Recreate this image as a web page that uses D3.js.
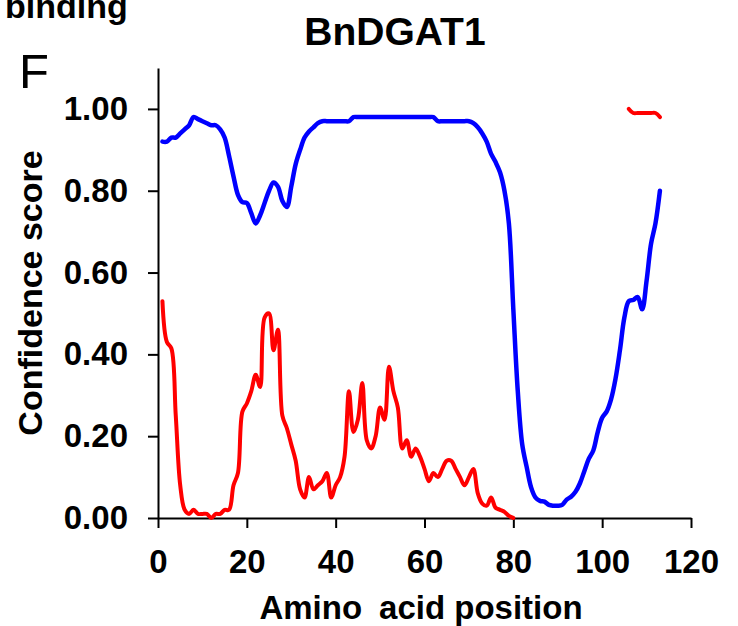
<!DOCTYPE html>
<html>
<head>
<meta charset="utf-8">
<script src="https://cdn.jsdelivr.net/npm/d3@7"></script>
<style>
  html, body { margin: 0; padding: 0; background: #fff; }
  svg { display: block; }
  text { font-family: "Liberation Sans", Arial, sans-serif; }
</style>
</head>
<body>
<svg id="chart" width="738" height="626"></svg>
<script>
// Confidence scores per amino acid position (positions start at 1)
const blueScores = [
  0.92, 0.92, 0.93, 0.93, 0.94, 0.95, 0.96, 0.98, 0.975, 0.97,
  0.965, 0.96, 0.96, 0.95, 0.93, 0.885, 0.835, 0.79, 0.772, 0.77,
  0.745, 0.72, 0.74, 0.77, 0.80, 0.82, 0.81, 0.775, 0.76, 0.81,
  0.865, 0.90, 0.93, 0.945, 0.955, 0.965, 0.97, 0.97, 0.97, 0.97,
  0.97, 0.97, 0.97, 0.98, 0.98, 0.98, 0.98, 0.98, 0.98, 0.98,
  0.98, 0.98, 0.98, 0.98, 0.98, 0.98, 0.98, 0.98, 0.98, 0.98,
  0.98, 0.98, 0.97, 0.97, 0.97, 0.97, 0.97, 0.97, 0.97, 0.97,
  0.965, 0.955, 0.94, 0.92, 0.89, 0.87, 0.845, 0.80, 0.72, 0.51,
  0.31, 0.18, 0.125, 0.075, 0.05, 0.042, 0.04, 0.032, 0.03, 0.03,
  0.032, 0.045, 0.052, 0.064, 0.085, 0.115, 0.145, 0.165, 0.21, 0.245,
  0.26, 0.29, 0.34, 0.41, 0.49, 0.53, 0.533, 0.54, 0.51, 0.58,
  0.67, 0.72, 0.80
];
const redScores = [
  0.53, 0.43, 0.415, 0.25, 0.08, 0.02, 0.01, 0.02, 0.01, 0.01,
  0.01, 0.00, 0.01, 0.01, 0.02, 0.02, 0.08, 0.11, 0.26, 0.28,
  0.31, 0.35, 0.32, 0.49, 0.50, 0.41, 0.46, 0.25, 0.22, 0.18,
  0.14, 0.07, 0.05, 0.10, 0.07, 0.08, 0.09, 0.11, 0.05, 0.08,
  0.10, 0.15, 0.31, 0.21, 0.24, 0.33, 0.19, 0.17, 0.20, 0.27,
  0.24, 0.37, 0.31, 0.27, 0.17, 0.19, 0.15, 0.17, 0.15, 0.12,
  0.09, 0.11, 0.10, 0.12, 0.14, 0.14, 0.12, 0.10, 0.08, 0.10,
  0.12, 0.06, 0.035, 0.03, 0.05, 0.025, 0.02, 0.015, 0.005, 0.00,
  null, null, null, null, null, null, null, null, null, null,
  null, null, null, null, null, null, null, null, null, null,
  null, null, null, null, null, 1.00, 0.99, 0.99, 0.99, 0.99,
  0.99, 0.99, 0.98
];
const xTicks = [0, 20, 40, 60, 80, 100, 120];
const yTicks = [0.00, 0.20, 0.40, 0.60, 0.80, 1.00];
const titleText = "BnDGAT1";
const panelLetter = "F";
const topLeftText = "binding";
const xLabelWords = ["Amino", "acid position"];
const yLabel = "Confidence score";

const svg = d3.select("#chart");
const x = d3.scaleLinear().domain([0, 120]).range([158, 691]);
const y = d3.scaleLinear().domain([0, 1.1]).range([518, 68]);

const toPoints = arr => arr.map((v, i) => ({ pos: i + 1, v }));

const line = d3.line()
  .defined(d => d.v !== null)
  .x(d => x(d.pos))
  .y(d => y(d.v))
  .curve(d3.curveCatmullRom.alpha(0.5));

// Axes
const xAxis = d3.axisBottom(x).tickValues(xTicks).tickSize(10).tickSizeOuter(0).tickPadding(22)
  .tickFormat(d3.format("d"));
const yAxis = d3.axisLeft(y).tickValues(yTicks).tickSize(10).tickSizeOuter(0).tickPadding(20)
  .tickFormat(d3.format(".2f"));

const gx = svg.append("g").attr("transform", `translate(0,${y(0)})`).call(xAxis);
const gy = svg.append("g").attr("transform", `translate(${x(0)},0)`).call(yAxis);
[gx, gy].forEach(g => {
  g.selectAll("path, line").attr("stroke", "#000").attr("stroke-width", 2);
  g.selectAll("text").attr("fill", "#000").attr("font-size", 33).attr("font-weight", "bold")
    .attr("font-family", "'Liberation Sans', Arial, sans-serif");
});

// Lines
svg.append("path").datum(toPoints(blueScores))
  .attr("fill", "none").attr("stroke", "#0000ff").attr("stroke-width", 4.5)
  .attr("stroke-linejoin", "round").attr("stroke-linecap", "round")
  .attr("d", line);
svg.append("path").datum(toPoints(redScores))
  .attr("fill", "none").attr("stroke", "#ff0000").attr("stroke-width", 4)
  .attr("stroke-linejoin", "round").attr("stroke-linecap", "round")
  .attr("d", line);

// Texts
svg.append("text").attr("x", 395).attr("y", 45).attr("text-anchor", "middle")
  .attr("font-size", 39).attr("font-weight", "bold").text(titleText);
svg.append("text").attr("x", 19).attr("y", 88)
  .attr("font-size", 49).text(panelLetter);
svg.append("text").attr("x", 5).attr("y", 18)
  .attr("font-size", 34).attr("font-weight", "bold").text(topLeftText);
const xl = svg.append("text").attr("x", 421).attr("y", 619).attr("text-anchor", "middle")
  .attr("font-size", 33).attr("font-weight", "bold");
xl.append("tspan").text(xLabelWords[0]);
xl.append("tspan").attr("dx", 17).text(xLabelWords[1]);
svg.append("text").attr("transform", "translate(42,293) rotate(-90)").attr("text-anchor", "middle")
  .attr("font-size", 34).attr("font-weight", "bold").text(yLabel);
</script>
</body>
</html>
